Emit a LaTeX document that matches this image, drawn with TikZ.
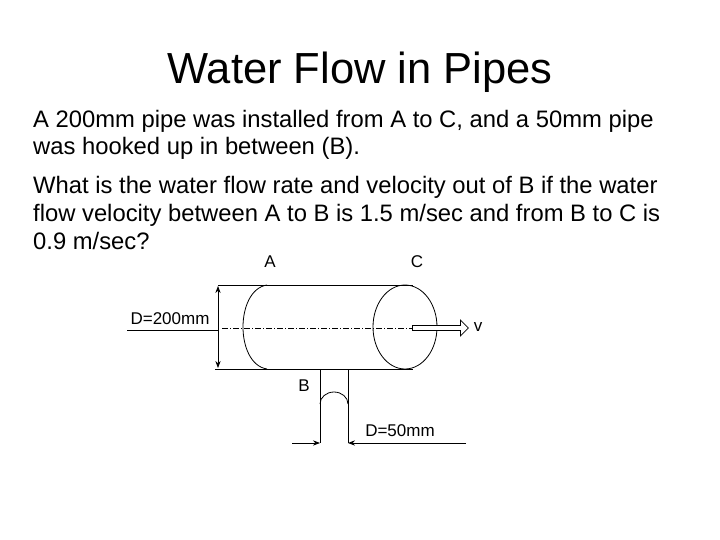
\documentclass[tikz,border=0pt]{standalone}
\usepackage{fontspec}
\setmainfont{Liberation Sans}
\usetikzlibrary{arrows.meta,shapes.arrows}
\begin{document}
\begin{tikzpicture}[x=1pt,y=-1pt,
  body/.style={anchor=base west,inner sep=0,font=\fontsize{23.8}{28}\selectfont},
  lbl/.style={inner sep=0,font=\fontsize{17}{20}\selectfont},
  ln/.style={line width=0.8pt}]
\useasboundingbox (0,0) rectangle (720,540);
\node[inner sep=0,anchor=base,font=\fontsize{43.5}{48}\selectfont] (title) at (360,84) {Water Flow in Pipes};
\node[body] (l1) at (33,128) {A 200mm pipe was installed from A to C, and a 50mm pipe};
\node[body] (l2) at (33,155) {was hooked up in between (B).};
\node[body] (l3) at (33,194) {What is the water flow rate and velocity out of B if the water};
\node[body] (l4) at (33,222) {flow velocity between A to B is 1.5 m/sec and from B to C is};
\node[body] (l5) at (33,249) {0.9 m/sec?};
\node[lbl] (A) at (270,262) {A};
\node[lbl] (C) at (417,262) {C};
\node[lbl] (d200) at (170,319) {D=200mm};
\node[lbl] (v) at (478,327) {v};
\node[lbl] (B) at (304,386) {B};
\node[lbl] (d50) at (400,431) {D=50mm};
% main pipe
\coordinate (tl) at (218,285); \coordinate (bl) at (215,369);
\draw[ln] (tl) -- (413,285);
\draw[ln] (bl) -- (413,369);
\draw[ln] (267,285) .. controls (235,290) and (235,364) .. (267,369);
\draw[ln] (405,327) ellipse [x radius=32,y radius=42];
\draw[ln,dash pattern=on 6pt off 2pt on 1pt off 2pt] (222,328) -- (412,328);
\draw[ln,{Stealth[length=7pt]}-{Stealth[length=7pt]}] (218,286) -- (218,368);
\draw[ln] (127,330) -- (218,330);
\node[single arrow,draw,fill=white,line width=0.8pt,minimum height=56pt,minimum width=16pt,single arrow head extend=3pt,inner sep=1pt,anchor=tail] (arr) at (412,328) {};
% small pipe
\draw[ln] (320,369) -- (320,443);
\draw[ln] (348,369) -- (348,443);
\draw[ln] (320,404) arc[start angle=180,end angle=360,x radius=14,y radius=12];
\draw[ln,-{Stealth[length=7pt]}] (292,443) -- (320,443);
\draw[ln,-{Stealth[length=7pt]}] (466,443) -- (348,443);
\end{tikzpicture}
\end{document}
